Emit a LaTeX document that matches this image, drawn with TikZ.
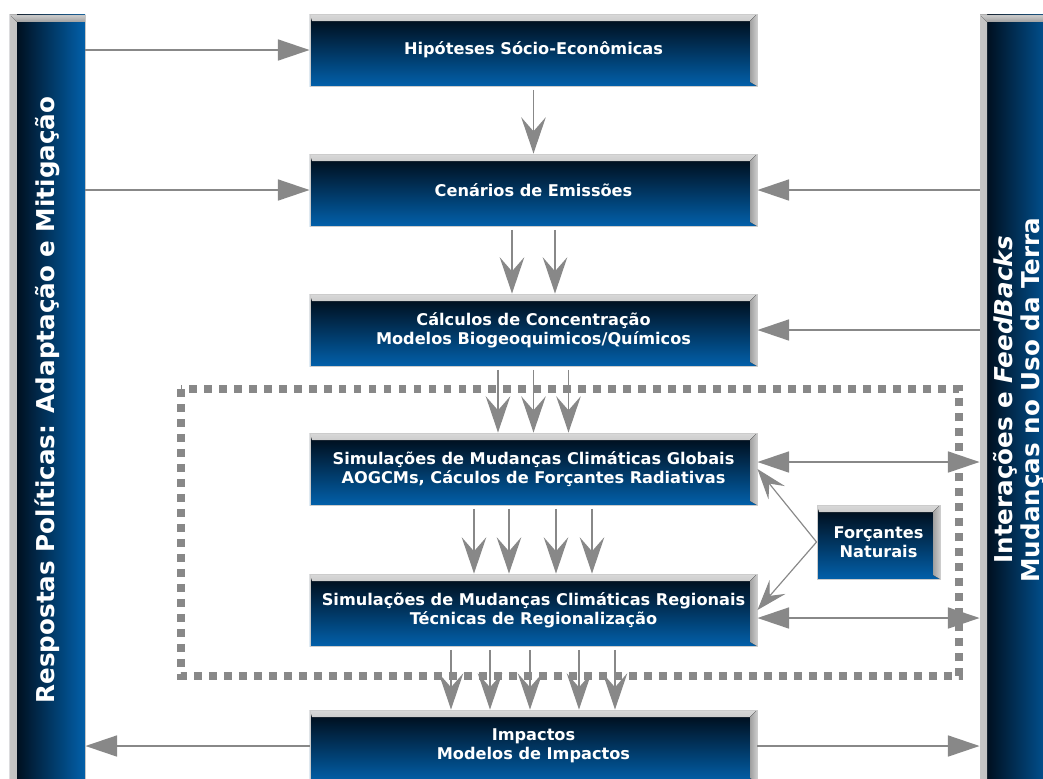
\documentclass[tikz,border=0pt]{standalone}
\usepackage{fontspec}
\setmainfont{DejaVu Sans}
\usepackage{graphicx}
\usepackage{xcolor}
\usetikzlibrary{positioning,calc,arrows.meta}

\definecolor{arrowgray}{RGB}{136,136,136}
\definecolor{boxtop}{RGB}{0,8,18}
\definecolor{boxbottom}{RGB}{2,96,170}

\tikzset{
  tri/.tip={Triangle[length=27pt,width=18pt]},
  stl/.tip={Stealth[length=31pt,width=21pt,inset=12pt]},
  smallstl/.tip={Stealth[length=26pt,width=18pt,inset=10pt]},
  bevel/.style={path picture={
    \fill[top color=gray!30, bottom color=gray!70!black]
      (path picture bounding box.north west) -- (path picture bounding box.north east)
      -- ([shift={(-0.21cm,-0.21cm)}]path picture bounding box.north east)
      -- ([shift={(0.06cm,-0.21cm)}]path picture bounding box.north west) -- cycle;
    \fill[left color=gray!75, right color=gray!40]
      (path picture bounding box.north east)
      -- ([shift={(-0.21cm,-0.21cm)}]path picture bounding box.north east)
      -- ([shift={(-0.21cm,0.12cm)}]path picture bounding box.south east)
      -- (path picture bounding box.south east) -- cycle;
  }},
  sidebevel/.style={path picture={
    \fill[left color=gray!45, right color=gray!75]
      (path picture bounding box.north west) rectangle
      ([xshift=0.21cm]path picture bounding box.south west);
    \fill[top color=gray!40, bottom color=gray!75]
      (path picture bounding box.north west) -- (path picture bounding box.north east)
      -- ([yshift=-0.21cm]path picture bounding box.north east)
      -- ([shift={(0.21cm,-0.21cm)}]path picture bounding box.north west) -- cycle;
  }},
}

\begin{document}
\begin{tikzpicture}[x=0.03cm,y=-0.03cm,
    main node/.style={draw=gray!40, line width=0.8pt, rectangle, align=center, text=white,
      top color=boxtop, bottom color=boxbottom, bevel, inner sep=0pt,
      font=\bfseries\fontsize{13.8}{16.2}\selectfont,
      minimum width=13.41cm, minimum height=2.16cm},
    side node/.style={draw=gray!45, line width=0.8pt, rectangle, text=white,
      left color=boxtop, right color=boxbottom,
      sidebevel, inner sep=0pt, font=\bfseries\fontsize{21}{23}\selectfont,
      minimum height=23.1cm},
    harrow/.style={-tri, arrowgray, line width=1.2pt},
    varrow/.style={-stl, arrowgray, line width=1pt, shorten <=3pt},
    farrow/.style={-smallstl, arrowgray, line width=1pt}]

\useasboundingbox (0,0) rectangle (1043,778);
\clip (0,0) rectangle (1043,778);

\node[side node, minimum width=2.25cm] (8) at (47.5,400)
  {\rotatebox{90}{Respostas Políticas: Adaptação e Mitigação}};
\node[side node, minimum width=2.4cm] (9) at (1020,400)
  {\rotatebox{90}{\begin{tabular}{@{}c@{}}Interações e \textit{FeedBacks}\\Mudanças no Uso da Terra\end{tabular}}};

\draw[arrowgray, line width=6.8pt, dash pattern=on 6.8pt off 6pt] (181,389) rectangle (959,676);

\node[main node] (1) at (533.5,50)  {Hipóteses Sócio-Econômicas};
\node[main node] (2) at (533.5,190) {Cenários de Emissões};
\node[main node] (3) at (533.5,330) {Cálculos de Concentração\\Modelos Biogeoquimicos/Químicos};
\node[main node] (4) at (533.5,469) {Simulações de Mudanças Climáticas Globais\\AOGCMs, Cáculos de Forçantes Radiativas};
\node[main node] (5) at (533.5,610) {Simulações de Mudanças Climáticas Regionais\\Técnicas de Regionalização};
\node[main node] (6) at (533.5,746) {Impactos\\Modelos de Impactos};
\node[main node, minimum width=3.69cm, minimum height=2.22cm] (7) at (878.5,542) {Forçantes\\Naturais};

\draw[harrow] (8.east |- 1.west) -- (1.west);
\draw[harrow] (8.east |- 2.west) -- (2.west);
\draw[harrow] (9.west |- 2.east) -- (2.east);
\draw[harrow] (9.west |- 3.east) -- (3.east);
\draw[harrow, tri-tri] ([yshift=0.21cm]4.east) -- ([yshift=0.21cm]4.east -| 9.west);
\draw[harrow, tri-tri] ([yshift=-0.24cm]5.east) -- ([yshift=-0.24cm]5.east -| 9.west);
\draw[harrow] (6.west) -- (6.west -| 8.east);
\draw[harrow] (6.east) -- (6.east -| 9.west);

\draw[varrow] (1.south) -- (2.north);
\foreach \d in {-21.5,21.5}
  \draw[varrow] ([xshift=\d*0.03cm]2.south) -- ([xshift=\d*0.03cm]3.north);
\foreach \d in {-35.5,0,35}
  \draw[varrow] ([xshift=\d*0.03cm]3.south) -- ([xshift=\d*0.03cm]4.north);
\foreach \d in {-59.5,-24.5,22.5,58.5}
  \draw[varrow] ([xshift=\d*0.03cm]4.south) -- ([xshift=\d*0.03cm]5.north);
\foreach \d in {-82.5,-43.5,-3.5,45.5,81.5}
  \draw[varrow] ([xshift=\d*0.03cm]5.south) -- ([xshift=\d*0.03cm]6.north);

\draw[farrow] (7.west) -- (4.east);
\draw[farrow] (7.west) -- (5.east);

\end{tikzpicture}
\end{document}
